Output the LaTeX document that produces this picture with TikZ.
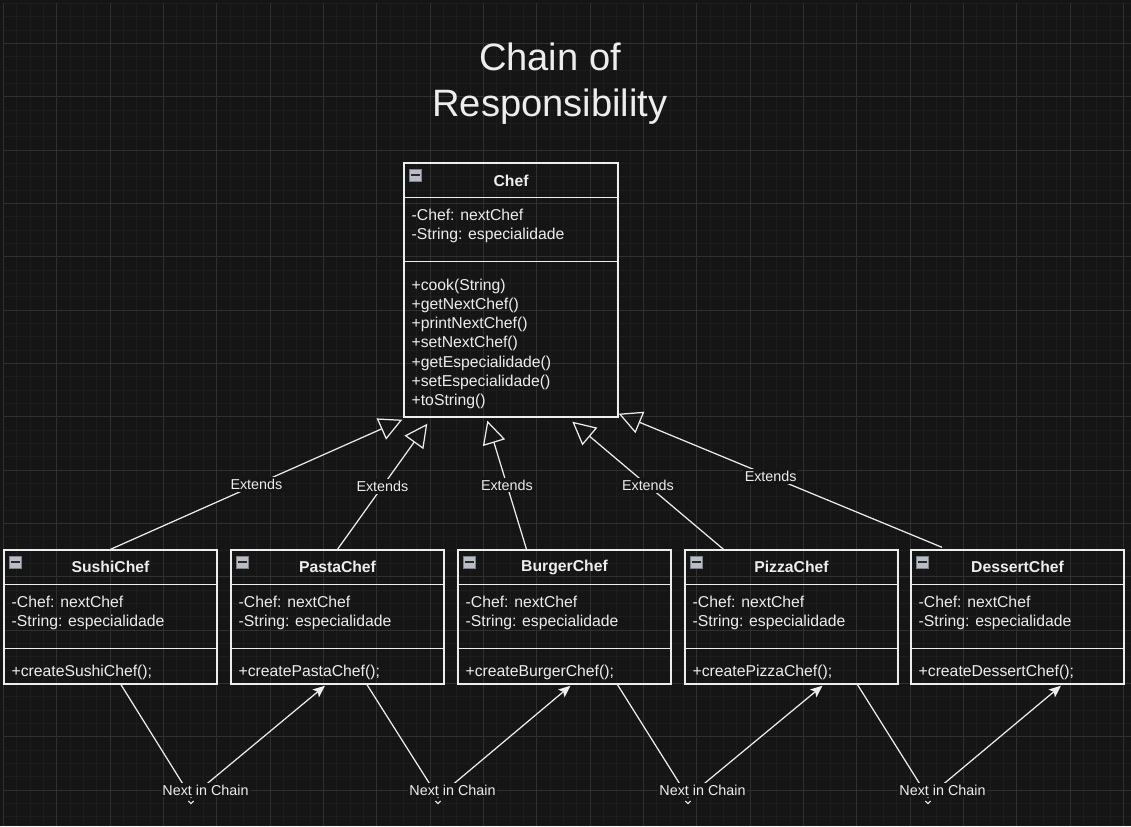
\documentclass[tikz,border=0pt]{standalone}
\usepackage{fontspec}
\setmainfont{Liberation Sans}
\usetikzlibrary{positioning, arrows.meta, calc}
\definecolor{canvas}{HTML}{151515}
\definecolor{minorline}{HTML}{1D1D1D}
\definecolor{majorline}{HTML}{303030}
\definecolor{ink}{HTML}{EDEDED}
\definecolor{iconfill}{HTML}{B9BDC6}
\definecolor{iconedge}{HTML}{7D828C}
\definecolor{iconbar}{HTML}{2A2A2A}
\tikzset{x=0.02cm, y=-0.02cm, % one unit is one pixel of the sketch
minorgrid/.style={draw=minorline, line width=0.5pt},
majorgrid/.style={draw=majorline, line width=0.5pt},
classbox/.style={draw=ink, line width=0.8pt, inner sep=0pt}, % outline of a class
classline/.style={draw=ink, line width=0.8pt}, % separators inside a class
classtitle/.style={text=ink, font=\bfseries\fontsize{8.96}{10.87}\selectfont, inner sep=0pt},
classtext/.style={text=ink, font=\fontsize{8.96}{10.87}\selectfont, align=left, inner sep=0pt, anchor=west},
foldicon/.style={draw=iconedge, fill=iconfill, minimum size=0.23cm, inner sep=0pt, line width=0.5pt,
  path picture={\fill[iconbar] ($(path picture bounding box.center)+(-4.3,-1.1)$) rectangle ($(path picture bounding box.center)+(4.3,1.1)$);}},
edgelabel/.style={fill=canvas, text=ink, font=\fontsize{8.16}{9.8}\selectfont, inner sep=1pt}, % labels break the line
extends/.style={draw=ink, line width=0.7pt, -{Triangle[open, length=0.46cm, width=0.46cm, line width=0.7pt]}},
nextchain/.style={draw=ink, line width=0.7pt, -{Stealth[length=0.24cm, width=0.2cm, inset=0.05cm]}},
chevron/.style={draw=ink, line width=0.6pt},
}

\begin{document}
\begin{tikzpicture}
  \useasboundingbox (0,0) rectangle (1131,826);
  \fill[canvas] (0,0) rectangle (1131,826);
  % grid
  \foreach \k in {0,...,84} \draw[minorgrid] ({3.33+13.333*\k},3.33) -- (\k*13.333+3.33,826);
  \foreach \k in {0,...,61} \draw[minorgrid] (3.33,{3.33+13.333*\k}) -- (1131,\k*13.333+3.33);
  \foreach \k in {0,...,21} \draw[majorgrid] ({3.33+53.333*\k},3.33) -- (\k*53.333+3.33,826);
  \foreach \k in {0,...,14} \draw[majorgrid] (3.33,{43.33+53.333*\k}) -- (1131,\k*53.333+43.33);

  \node[text=ink, font=\fontsize{21.7}{26.1}\selectfont, align=center] (heading) at (550,84) {Chain of\\Responsibility};

  % base class
  \node[classbox, minimum width=4.28cm, minimum height=5.08cm] (chef) at (511,290) {};
  \draw[classline] ($(chef.north west)+(0,35)$) -- ($(chef.north east)+(0,35)$);
  \draw[classline] ($(chef.north west)+(0,99)$) -- ($(chef.north east)+(0,99)$);
  \node[foldicon] (chef-icon) at ($(chef.north west)+(12,13)$) {};
  \node[classtitle] (chef-title) at ($(chef.north)+(0,18.5)$) {Chef};
  \node[classtext] (chef-attr) at ($(chef.north west)+(8,64)$) {-Chef: nextChef\\-String: especialidade};
  \node[classtext] (chef-ops) at ($(chef.north west)+(8,181.5)$) {+cook(String)\\+getNextChef()\\+printNextChef()\\+setNextChef()\\+getEspecialidade()\\+setEspecialidade()\\+toString()};

  % concrete chefs
  \foreach \nm/\lx/\who in {sushi/4/Sushi, pasta/231/Pasta, burger/458/Burger, pizza/685/Pizza, dessert/911/Dessert} {
    \node[classbox, minimum width=4.26cm, minimum height=2.68cm] (\nm) at ({\lx+106.5},617) {};
    \draw[classline] ($(\nm.north west)+(0,35)$) -- ($(\nm.north east)+(0,35)$);
    \draw[classline] ($(\nm.north west)+(0,99)$) -- ($(\nm.north east)+(0,99)$);
    \node[foldicon] (\nm-icon) at ($(\nm.north west)+(12,13)$) {};
    \node[classtitle] (\nm-title) at ($(\nm.north)+(0,18)$) {\who Chef};
    \node[classtext] (\nm-attr) at ($(\nm.north west)+(8,63.5)$) {-Chef: nextChef\\-String: especialidade};
    \node[classtext] (\nm-ops) at ($(\nm.north west)+(8,123)$) {+create\who Chef();};
  }

  % inheritance
  \draw[extends] (sushi.north) -- node[edgelabel]{Extends} ($(chef.south west)+(-1,2)$);
  \draw[extends] (pasta.north) -- node[edgelabel]{Extends} ($(chef.south west)+(24,6)$);
  \draw[extends] ($(burger.north)+(-38,0)$) -- node[edgelabel]{Extends} ($(chef.south west)+(84,3)$);
  \draw[extends] ($(pizza.north)+(-68,0)$) -- node[edgelabel]{Extends} ($(chef.south west)+(169,4)$);
  \draw[extends] ($(dessert.north)+(-75.5,-2)$) -- node[edgelabel, pos=0.53]{Extends} ($(chef.south east)+(0,-4)$);

  % next in chain
  \foreach \sa/\da/\so/\de/\bx in {sushi/pasta/10.5/-12.5/191, pasta/burger/29.5/6/438, burger/pizza/53/31/688, pizza/dessert/66/43.5/928} {
    \coordinate (bend-\sa) at (\bx,797);
    \draw[nextchain] ($(\sa.south)+(\so,0)$) -- (bend-\sa) -- ($(\da.south)+(\de,1)$);
    \node[edgelabel] (chain-\sa) at ({\bx+14.5},790) {Next in Chain};
    \draw[chevron] ({\bx-2.7},801) -- ({\bx},803.6) -- ({\bx+2.7},801);
  }
\end{tikzpicture}
\end{document}
